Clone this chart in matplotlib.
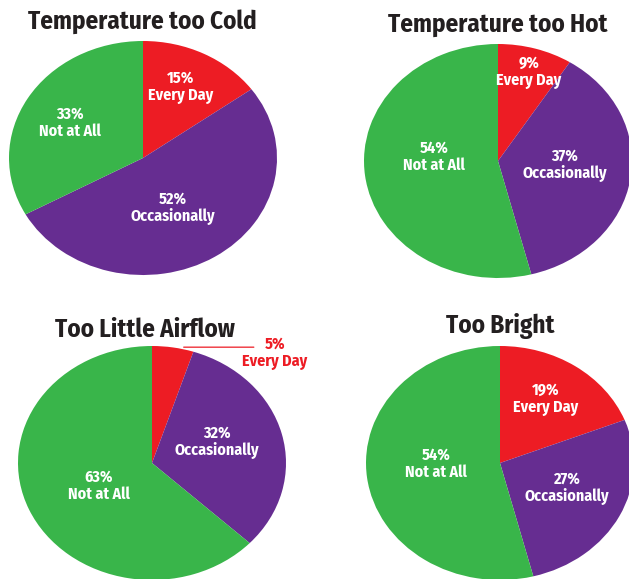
import numpy as np
import matplotlib
matplotlib.use("Agg")
import matplotlib.pyplot as plt

# ---------------- data ----------------
categories = ["Every Day", "Occasionally", "Not at All"]
too_cold = [15, 52, 33]
too_hot = [9, 37, 54]
too_little_airflow = [5, 32, 63]
too_bright = [19, 27, 54]
titles = ["Temperature too Cold", "Temperature too Hot", "Too Little Airflow", "Too Bright"]

# ---------------- style / layout ----------------
W, H = 629, 579
colors = ["#ED1C24", "#662D91", "#39B54A"]
FONT = ["Fira Sans Condensed", "DejaVu Sans"]
plt.rcParams["font.family"] = FONT

centers = [(143, 158), (498, 161), (152, 463), (500, 463)]
RX, RY = 134, 117
title_pos = [(142, 29), (498, 32), (145, 337), (500, 333)]
# label positions in pie-radius units (x right, y up)
label_pos = [
    [(0.284, 0.607), (0.224, -0.427), (-0.545, 0.299)],
    [(0.231, 0.761), (0.50, -0.034), (-0.478, 0.034)],
    [(0.918, 0.94), (0.485, 0.179), (-0.396, -0.197)],
    [(0.343, 0.547), (0.50, -0.214), (-0.478, -0.009)],
]
outside = [[False] * 3, [False] * 3, [True, False, False], [False] * 3]

series = [too_cold, too_hot, too_little_airflow, too_bright]

fig = plt.figure(figsize=(W / 100, H / 100), dpi=100)
fig.patch.set_facecolor("white")

for i, vals in enumerate(series):
    cx, cy = centers[i]
    ax = fig.add_axes([(cx - RX) / W, 1 - (cy + RY) / H, 2 * RX / W, 2 * RY / H])
    wedges, _ = ax.pie(vals, colors=colors, startangle=90, counterclock=False,
                       radius=1.0, wedgeprops=dict(linewidth=0))
    ax.set_aspect("auto")
    ax.set_xlim(-1, 1)
    ax.set_ylim(-1, 1)
    ax.axis("off")
    for w in wedges:
        w.set_clip_on(False)

    total = float(sum(vals))
    cum = 0.0
    for j, v in enumerate(vals):
        mid = np.deg2rad(90 - (cum + v / 2) / total * 360)
        cum += v
        lx, ly = label_pos[i][j]
        txt = f"{v}%\n{categories[j]}"
        if outside[i][j]:
            ax.annotate("", xy=(np.cos(mid) + 0.08, 0.99), xytext=(0.76, 0.99),
                        arrowprops=dict(arrowstyle="-", color=colors[0], lw=0.9,
                                        shrinkA=0, shrinkB=0),
                        annotation_clip=False)
            ax.text(lx, ly, txt, ha="center", va="center", color=colors[0],
                    fontsize=11.5, fontweight="bold", linespacing=1.1,
                    clip_on=False)
        else:
            ax.text(lx, ly, txt, ha="center", va="center", color="white",
                    fontsize=11.5, fontweight="bold", linespacing=1.1)

    tx, ty = title_pos[i]
    fig.text(tx / W, 1 - ty / H, titles[i], ha="center", va="baseline",
             fontsize=18, fontweight="bold", color="#231F20")

fig.savefig("out.png", dpi=100)
